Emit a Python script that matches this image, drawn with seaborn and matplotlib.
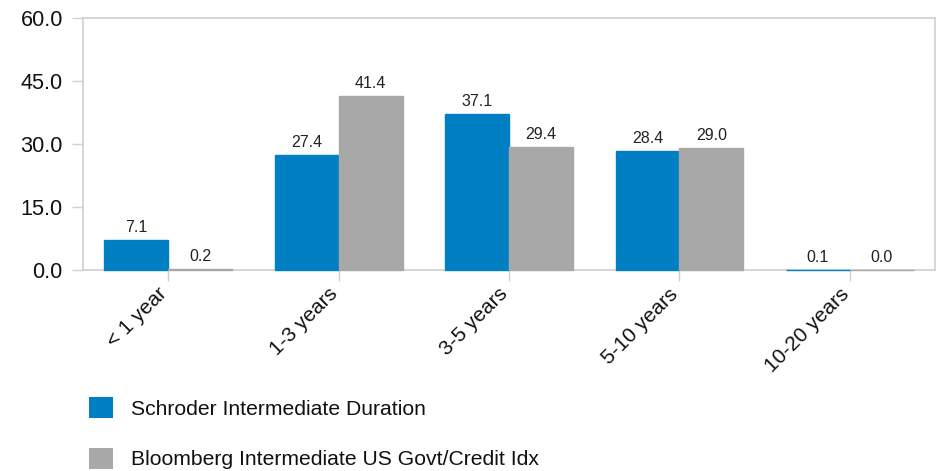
import pandas as pd
import seaborn as sns
import matplotlib.pyplot as plt
from matplotlib.patches import Patch

# Data
categories = ["< 1 year", "1-3 years", "3-5 years", "5-10 years", "10-20 years"]
schroder = [7.1, 27.4, 37.1, 28.4, 0.1]
bloomberg = [0.2, 41.4, 29.4, 29.0, 0.0]
series_names = ["Schroder Intermediate Duration", "Bloomberg Intermediate US Govt/Credit Idx"]
yticks = [0, 15, 30, 45, 60]

colors = ["#0080C3", "#A8A8A8"]

df = pd.DataFrame({
    "bucket": categories * 2,
    "value": schroder + bloomberg,
    "series": [series_names[0]] * len(categories) + [series_names[1]] * len(categories),
})

sns.set_style("white")
plt.rcParams["font.family"] = ["Liberation Sans", "DejaVu Sans"]

fig = plt.figure(figsize=(9.49, 4.71), dpi=100)
ax = fig.add_axes([83 / 949, 1 - 270 / 471, (935 - 83) / 949, (270 - 18) / 471])

sns.barplot(data=df, x="bucket", y="value", hue="series", order=categories,
            hue_order=series_names, palette=colors, width=0.75, saturation=1,
            linewidth=0, ax=ax, legend=False)

# tiny bars show as a thin line just under the axis, like the original
for cont, c in zip(ax.containers, colors):
    for bar in cont:
        bar.set_edgecolor(c)
        bar.set_linewidth(1.0)
        bar.set_clip_on(False)
    ax.bar_label(cont, fmt="%.1f", padding=3.5, fontsize=11.5, color="#222222")

ax.set_ylim(0, 60)
ax.set_xlim(-0.5, len(categories) - 0.5)
ax.set_yticks(yticks)
ax.set_yticklabels([f"{v:.1f}" for v in yticks], fontsize=15.6, color="#111111")
ax.set_xticks(range(len(categories)))
ax.set_xticklabels(categories, rotation=45, ha="right", va="baseline",
                   rotation_mode="anchor", fontsize=15, color="#111111")
ax.set_xlabel("")
ax.set_ylabel("")
ax.tick_params(axis="y", length=8, width=1, color="#d0d0d0", pad=6.5, left=True)
ax.tick_params(axis="x", length=8, width=1, color="#d0d0d0", pad=10, bottom=True)
for s in ax.spines.values():
    s.set_color("#d0d0d0")
    s.set_linewidth(1.2)
    s.set_zorder(0.5)

handles = [Patch(facecolor=c, edgecolor="none") for c in colors]
fig.legend(handles, series_names, loc="upper left", bbox_to_anchor=(89 / 949, 1 - 397 / 471),
           frameon=False, fontsize=15.2, handlelength=1.14, handleheight=1.14,
           handletextpad=0.85, labelspacing=1.38, borderpad=0, borderaxespad=0,
           labelcolor="#111111")

fig.savefig("out.png", dpi=100)
